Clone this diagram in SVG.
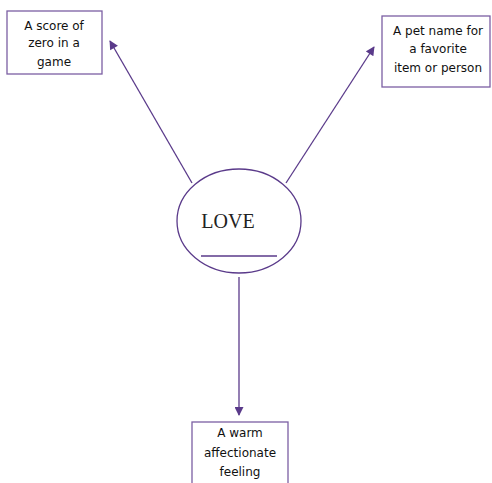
<svg xmlns="http://www.w3.org/2000/svg" width="492" height="483" viewBox="0 0 492 483">
<defs>
<style>
.box{fill:#fff;stroke:#7b5fa3;stroke-width:1.3}
.lbl{font-family:"DejaVu Sans","Liberation Sans",sans-serif;font-size:12px;fill:#111;text-anchor:middle}
.conn{stroke:#5a3a8a;stroke-width:1.3;fill:none}
</style>
<marker id="ah" viewBox="0 0 10 10" refX="9" refY="5" markerWidth="10" markerHeight="9" markerUnits="userSpaceOnUse" orient="auto">
<path d="M0,0 L10,5 L0,10 z" fill="#5a3a8a"/>
</marker>
</defs>
<rect width="492" height="483" fill="#fff"/>
<g id="connectors">
<line class="conn" x1="192" y1="183" x2="110" y2="41" marker-end="url(#ah)"/>
<line class="conn" x1="286" y1="183" x2="374" y2="47" marker-end="url(#ah)"/>
<line class="conn" x1="239" y1="277" x2="239" y2="415" marker-end="url(#ah)"/>
</g>
<g id="love">
<ellipse cx="239" cy="221" rx="62" ry="52" fill="#fff" stroke="#5a3a8a" stroke-width="1.3"/>
<text x="228" y="228" font-family="Liberation Serif,serif" font-size="20" fill="#222" text-anchor="middle">LOVE</text>
<line x1="201" y1="256" x2="277" y2="256" stroke="#5a3a8a" stroke-width="1.3"/>
</g>
<g id="score">
<rect class="box" x="7" y="11" width="95" height="63"/>
<text class="lbl" x="54" y="30">A score of</text>
<text class="lbl" x="54" y="47">zero in a</text>
<text class="lbl" x="54" y="66">game</text>
</g>
<g id="petname">
<rect class="box" x="382" y="16" width="108" height="71"/>
<text class="lbl" x="438" y="35">A pet name for</text>
<text class="lbl" x="438" y="53">a favorite</text>
<text class="lbl" x="438" y="72">item or person</text>
</g>
<g id="warm">
<rect class="box" x="192" y="422" width="96" height="70"/>
<text class="lbl" x="240" y="437">A warm</text>
<text class="lbl" x="240" y="457">affectionate</text>
<text class="lbl" x="240" y="476">feeling</text>
</g>
</svg>
